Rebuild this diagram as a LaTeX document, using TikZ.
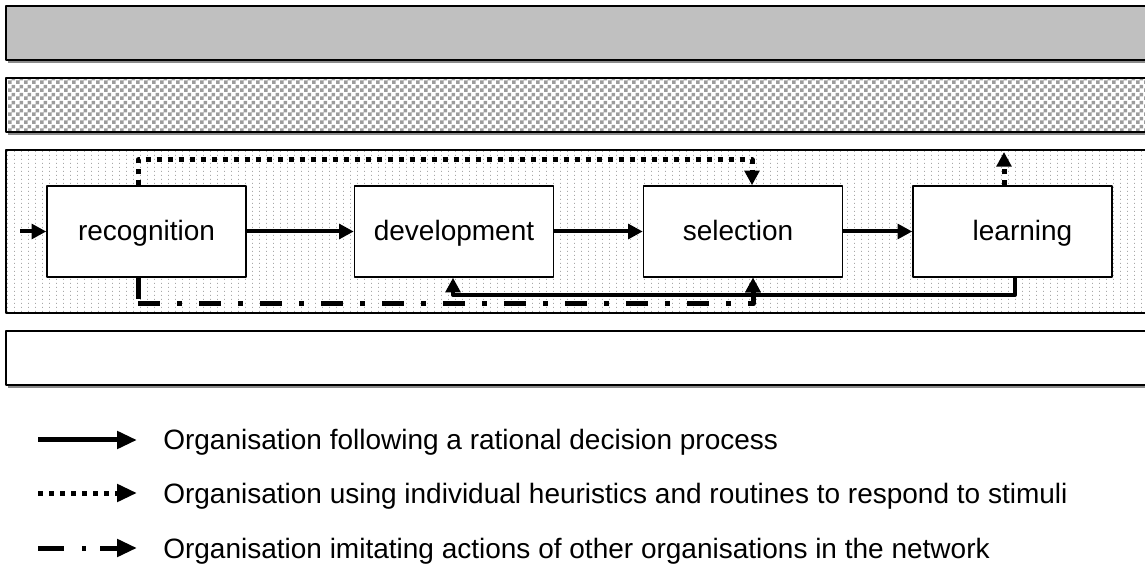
\documentclass[tikz,border=0pt]{standalone}
\usepackage{fontspec}
\setmainfont{Liberation Sans}
\usetikzlibrary{arrows.meta,patterns}

% 4px checkerboard and a fine dot screen for the band fills
\pgfdeclarepatternformonly{checks}{\pgfpointorigin}{\pgfpoint{6pt}{6pt}}{\pgfpoint{6pt}{6pt}}{%
  \pgfpathrectangle{\pgfpointorigin}{\pgfpoint{3pt}{3pt}}%
  \pgfpathrectangle{\pgfpoint{3pt}{3pt}}{\pgfpoint{3pt}{3pt}}%
  \pgfusepath{fill}}
\pgfdeclarepatternformonly{finedots}{\pgfpointorigin}{\pgfpoint{5.5pt}{3pt}}{\pgfpoint{5.5pt}{3pt}}{%
  \pgfpathrectangle{\pgfpointorigin}{\pgfpoint{0.8pt}{1.1pt}}%
  \pgfusepath{fill}}

\definecolor{bandgray}{HTML}{C0C0C0}
\definecolor{checkgray}{HTML}{9C9C9C}
\definecolor{dotgray}{HTML}{A8A8A8}
\definecolor{shadowgray}{HTML}{8A8A8A}

\tikzset{
  band/.style={draw=black, line width=1.5pt},
  stage/.style={draw=black, line width=1.1pt, fill=white, inner sep=0pt,
    minimum width=149.25pt, minimum height=68.25pt,
    text height=16.4pt, text depth=2.4pt,
    font=\fontsize{21}{25}\selectfont},
  head/.style={-{Triangle[length=11pt,width=11pt]}},
  flow/.style={head, line width=3pt},
  routine/.style={head, line width=3.75pt, dash pattern=on 3.75pt off 4.5pt},
  imitate/.style={head, line width=3.75pt,
    dash pattern=on 16.5pt off 12.75pt on 3.75pt off 12.75pt},
  stub/.style={line width=3.75pt},
  keyhead/.style={-{Triangle[length=15pt,width=12.75pt]}, line width=3.75pt},
  keytext/.style={anchor=base west, inner sep=0pt,
    font=\fontsize{21}{25}\selectfont},
}

\begin{document}
\begin{tikzpicture}[x=0.75pt, y=-0.75pt, line join=round]
\useasboundingbox (0,0) rectangle (1145,580);
\clip (0,0) rectangle (1145,580);

% background bands
\draw[shadowgray, line width=1pt] (8,62) -- (1160,62);
\draw[band, fill=bandgray] (6,6) rectangle (1160,60);
\draw[shadowgray, line width=1pt] (8,134) -- (1160,134);
\draw[band, fill=white, pattern=checks, pattern color=checkgray] (6,78) rectangle (1160,132);
\draw[shadowgray, line width=1pt] (8,387) -- (1160,387);
\draw[band, fill=white] (6,331) rectangle (1160,385);
\draw[band, fill=white, pattern=finedots, pattern color=dotgray] (6,150) rectangle (1160,313);

% process stages
\node[stage] (rec)   at (146.5,231.5) {recognition};
\node[stage] (dev)   at (454,231.5)   {development};
\node[stage] (sel)   at (743,231.5)   {\hspace*{-7.5pt}selection};
\node[stage] (learn) at (1012.5,231.5) {\hspace*{15pt}learning};

% routing points
\coordinate (start) at (20,231.5);
\coordinate (d1) at (138,160);
\coordinate (d2) at (752,160);
\coordinate (up) at (1004,152);
\coordinate (f1) at (1015,295);
\coordinate (f2) at (453,295);
\coordinate (f3) at (753,295);
\coordinate (m0) at (138,299);
\coordinate (m1) at (138,304);
\coordinate (m2) at (753,304);

% rational sequence
\draw[flow] (start) -- (rec.west);
\draw[flow] (rec.east) -- (dev.west);
\draw[flow] (dev.east) -- (sel.west);
\draw[flow] (sel.east) -- (learn.west);

% heuristic shortcut and outgoing stimulus
\draw[routine] (rec.north -| d1) -- (d1) -- (d2) -- (sel.north -| d2);
\draw[routine] (learn.north -| up) -- (up);

% learning feedback
\draw[flow] (learn.south -| f1) -- (f1) -- (f2) -- (dev.south -| f2);
\draw[flow] (f3) -- (sel.south -| f3);

% imitation path
\draw[stub] (rec.south -| m0) -- (m0);
\draw[imitate] (m1) -- (m2) -- (sel.south -| m2);

% key
\coordinate (k1a) at (38,440);  \coordinate (k1b) at (137,440);
\coordinate (k2a) at (38,493);  \coordinate (k2b) at (137,493);
\coordinate (k3a) at (38,548);  \coordinate (k3b) at (137,548);
\draw[keyhead] (k1a) -- (k1b);
\draw[keyhead, dash pattern=on 3.75pt off 4.5pt] (k2a) -- (k2b);
\draw[keyhead, dash pattern=on 19.5pt off 13.5pt on 3pt off 10.5pt] (k3a) -- (k3b);
\node[keytext] (key1) at (163,450) {Organisation following a rational decision process};
\node[keytext] (key2) at (163,503) {Organisation using individual heuristics and routines to respond to stimuli};
\node[keytext] (key3) at (163,558) {Organisation imitating actions of other organisations in the network};
\end{tikzpicture}
\end{document}
